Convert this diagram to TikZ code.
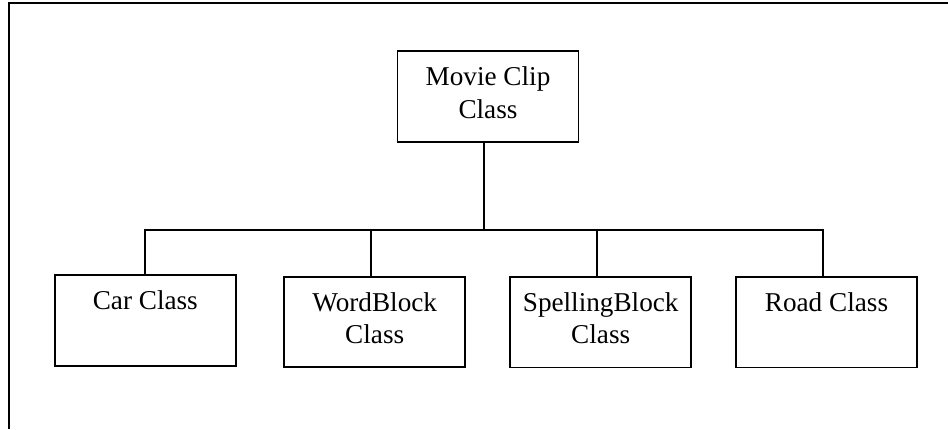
\documentclass[tikz,border=0pt]{standalone}
\usepackage{fontspec}
\setmainfont{Liberation Serif}
\begin{document}
\begin{tikzpicture}[x=1pt,y=-1pt,
  box/.style={draw,line width=1.8pt,minimum width=181pt,minimum height=90.5pt,inner sep=0pt},
  lbl/.style={font=\fontsize{27.2}{32.3}\selectfont,align=center,inner sep=0pt,anchor=base},
  conn/.style={line width=1.7pt}]
\useasboundingbox (0,0) rectangle (948,429);
\draw[line width=2pt] (9,429) -- (9,3) -- (948,3);
\node[box] (movie) at (488,96.35) {};
\node[box] (car) at (145.3,320.5) {};
\node[box] (word) at (374.7,322) {};
\node[box] (spell) at (600.7,322.2) {};
\node[box] (road) at (826.5,322.2) {};
\node[lbl] (tmovie) at ([yshift=-67.8pt]movie.north) {Movie Clip\\Class};
\node[lbl] (tcar) at ([yshift=-35.5pt]car.north) {Car Class};
\node[lbl] (tword) at ([yshift=-67.5pt]word.north) {WordBlock\\Class};
\node[lbl] (tspell) at ([yshift=-67.5pt]spell.north) {SpellingBlock\\Class};
\node[lbl] (troad) at ([yshift=-35.5pt]road.north) {Road Class};
\coordinate (bus) at (484.3,230.3);
\coordinate (cw) at ([xshift=-3.7pt]word.north);
\coordinate (cs) at ([xshift=-3.7pt]spell.north);
\coordinate (cr) at ([xshift=-3.8pt]road.north);
\draw[conn] (movie.south -| bus) -- (bus);
\draw[conn] (car.north) -- (bus -| car.north) -- (bus -| cr) -- (cr);
\draw[conn] (bus -| cw) -- (cw);
\draw[conn] (bus -| cs) -- (cs);
\end{tikzpicture}
\end{document}
